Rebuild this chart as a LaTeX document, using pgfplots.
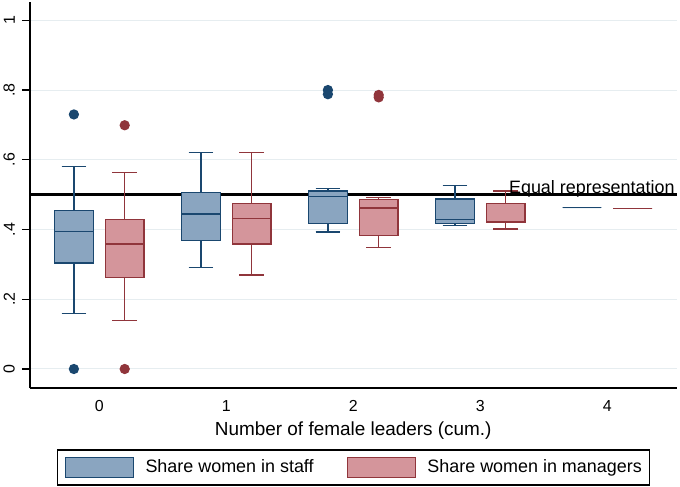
\documentclass[border=0pt]{standalone}
\usepackage{fontspec}
\setmainfont{Liberation Sans}
\usepackage{pgfplots}
\pgfplotsset{compat=1.18}
\usepgfplotslibrary{statistics}

\definecolor{navy}{RGB}{26,71,111}
\definecolor{staff}{RGB}{138,165,192}
\definecolor{maroon}{RGB}{144,53,59}
\definecolor{mgr}{RGB}{212,149,155}
\definecolor{gridc}{RGB}{230,237,240}

\pgfplotsset{
  boxplot/draw direction=y,
  staffbox/.style={draw=navy, fill=staff, line width=0.7bp, solid,
    mark=*, mark size=2.2bp, mark options={draw=navy, fill=navy, solid},
    boxplot/box extend=0.305, boxplot/whisker extend=0.195},
  mgrbox/.style={draw=maroon, fill=mgr, line width=0.7bp, solid,
    mark=*, mark size=2.2bp, mark options={draw=maroon, fill=maroon, solid},
    boxplot/box extend=0.305, boxplot/whisker extend=0.195},
}

\begin{document}
\begin{tikzpicture}
\useasboundingbox (-14.75bp,-49.5bp) rectangle (325.25bp,194bp);
\begin{axis}[
  at={(0,0)}, anchor=south west,
  scale only axis, width=323.75bp, height=193bp,
  xmin=-0.5496, xmax=4.549, ymin=-0.0545, ymax=1.0525,
  axis lines*=left,
  axis line style={-, line width=1bp, black},
  xtick={0,1,2,3,4}, xticklabels={0,1,2,3,4},
  major x tick style={draw=none},
  ytick={0,0.2,0.4,0.6,0.8,1}, yticklabels={0,.2,.4,.6,.8,1},
  tick align=outside, major tick length=3.8bp,
  ytick style={black, line width=0.6bp},
  ymajorgrids, grid style={gridc, line width=0.5bp},
  yticklabel style={rotate=90, anchor=south, font=\fontsize{8}{9.6}\selectfont},
  xticklabel style={font=\fontsize{8}{9.6}\selectfont, yshift=1.3bp},
  xlabel={Number of female leaders (cum.)},
  xlabel style={font=\fontsize{9.5}{11}\selectfont, at={(axis description cs:0.5,0)}, anchor=north, yshift=-13.6bp},
  legend columns=2,
  legend style={at={(axis description cs:0.5,0)}, anchor=north, yshift=-30.65bp,
    draw=black, line width=0.6bp, inner xsep=3.8bp, inner ysep=3.6bp,
    font=\fontsize{9}{10.8}\selectfont,
    nodes={inner sep=0pt},
    /tikz/every odd column/.append style={column sep=5.8bp},
    /tikz/every even column/.append style={column sep=16.5bp}},
  legend image code/.code={\draw[#1, line width=0.6bp] (0bp,-4.85bp) rectangle (34bp,4.85bp);},
  clip=false,
]
\addlegendimage{draw=navy, fill=staff}
\addlegendentry{Share women in staff}
\addlegendimage{draw=maroon, fill=mgr}
\addlegendentry{Share women in managers\hspace{5.85bp}}

% y axis line (explicit)
\addplot[black, line width=1bp, forget plot] coordinates {(-0.5496,-0.0545) (-0.5496,1.0525)};
% equal representation line
\addplot[black, line width=1.5bp, forget plot] coordinates {(-0.5496,0.5) (4.549,0.5)};

% category 0
\addplot[staffbox, boxplot prepared={draw position=-0.2, lower whisker=0.159, lower quartile=0.304, median=0.395, upper quartile=0.455, upper whisker=0.580}] coordinates {(0,0.730) (0,0)};
\addplot[mgrbox, boxplot prepared={draw position=0.2, lower whisker=0.1385, lower quartile=0.263, median=0.359, upper quartile=0.428, upper whisker=0.564}] coordinates {(0,0.699) (0,0)};
% category 1
\addplot[staffbox, boxplot prepared={draw position=0.8, lower whisker=0.2905, lower quartile=0.368, median=0.445, upper quartile=0.506, upper whisker=0.621}] coordinates {};
\addplot[mgrbox, boxplot prepared={draw position=1.2, lower whisker=0.270, lower quartile=0.359, median=0.432, upper quartile=0.474, upper whisker=0.621}] coordinates {};
% category 2
\addplot[staffbox, boxplot prepared={draw position=1.8, lower whisker=0.393, lower quartile=0.418, median=0.494, upper quartile=0.511, upper whisker=0.517}] coordinates {(0,0.800) (0,0.788)};
\addplot[mgrbox, boxplot prepared={draw position=2.2, lower whisker=0.348, lower quartile=0.382, median=0.462, upper quartile=0.486, upper whisker=0.491}] coordinates {(0,0.786) (0,0.779)};
% category 3
\addplot[staffbox, boxplot prepared={draw position=2.8, lower whisker=0.412, lower quartile=0.418, median=0.429, upper quartile=0.487, upper whisker=0.526}] coordinates {};
\addplot[mgrbox, boxplot prepared={draw position=3.2, lower whisker=0.401, lower quartile=0.421, median=0.421, upper quartile=0.475, upper whisker=0.510}] coordinates {};
% category 4
\addplot[staffbox, boxplot prepared={draw position=3.8, lower whisker=0.4626, lower quartile=0.4626, median=0.4626, upper quartile=0.4626, upper whisker=0.4626}] coordinates {};
\addplot[mgrbox, boxplot prepared={draw position=4.2, lower whisker=0.461, lower quartile=0.461, median=0.461, upper quartile=0.461, upper whisker=0.461}] coordinates {};

\node[anchor=base east, inner sep=0pt, yshift=0.75bp, font=\fontsize{9}{10.8}\selectfont] at (axis cs:4.533,0.5) {Equal representation};
\end{axis}
\end{tikzpicture}
\end{document}
